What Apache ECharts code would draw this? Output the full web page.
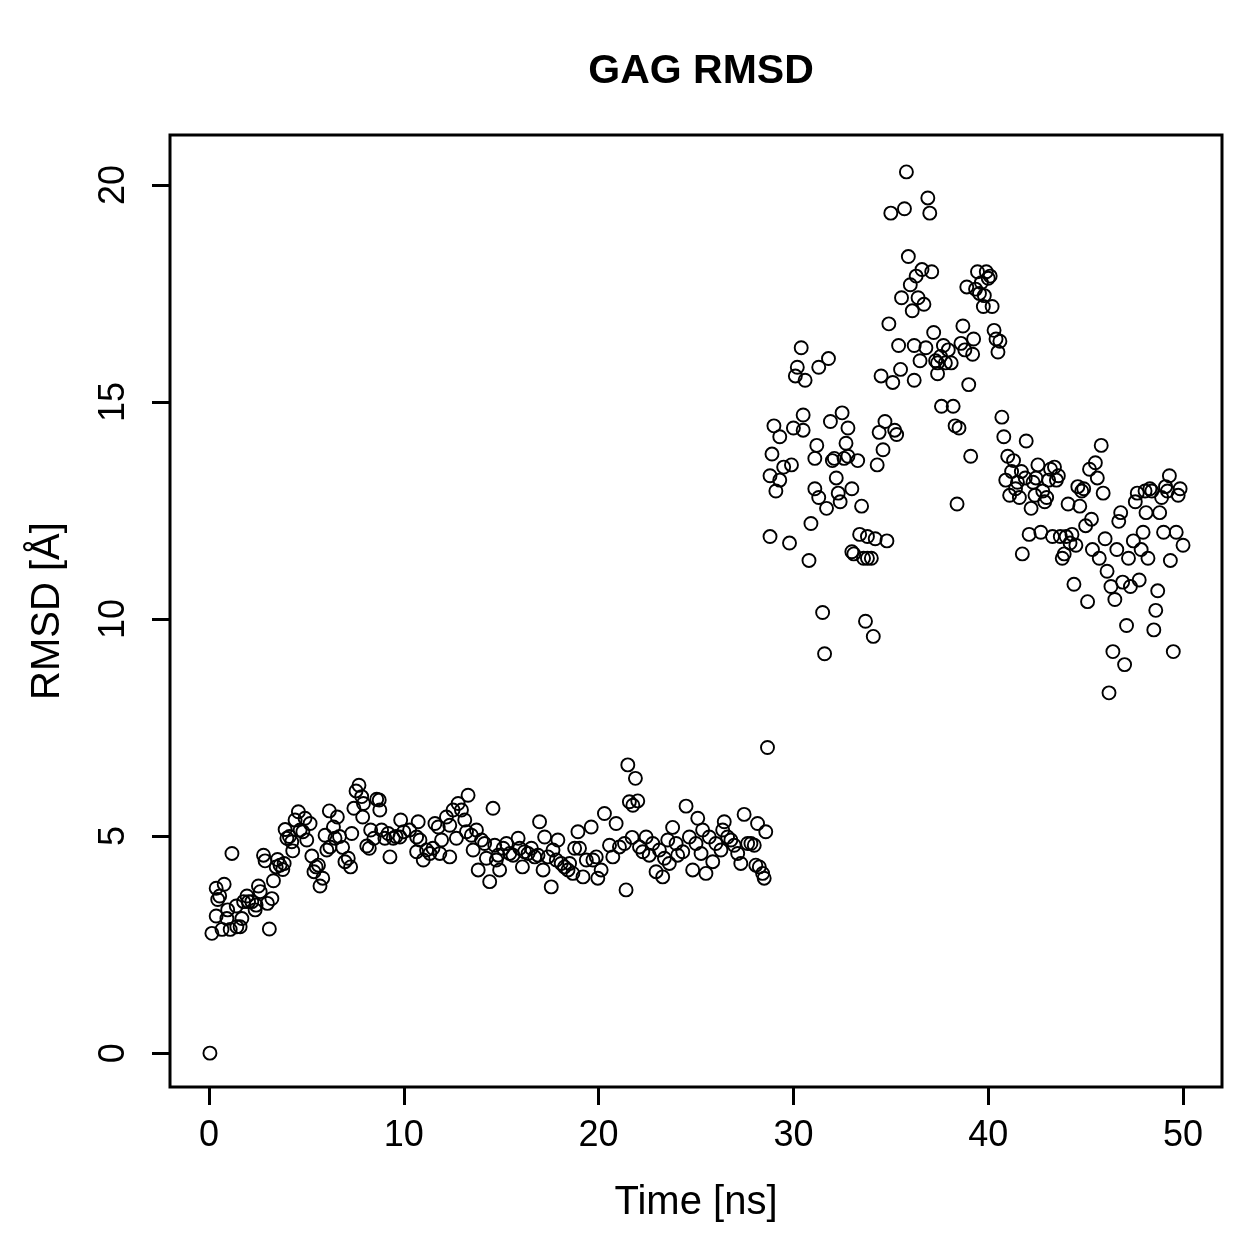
<!DOCTYPE html>
<html>
<head>
<meta charset="utf-8">
<script src="https://cdn.jsdelivr.net/npm/echarts@6/dist/echarts.min.js"></script>
<style>
  html,body{margin:0;padding:0;background:#fff;}
  #chart{width:1259px;height:1259px;}
</style>
</head>
<body>
<div id="chart"></div>
<script>
// time in ns, RMSD in Angstrom
const timeNs = [
  0.05,0.15,0.37,0.37,0.45,0.55,0.67,0.78,0.92,0.96,1.09,1.18,1.4,1.43,1.6,1.69,1.78,1.95,2.03,2.2,
  2.37,2.42,2.54,2.63,2.8,2.88,3.0,3.1,3.23,3.31,3.45,3.52,3.65,3.79,3.86,3.91,4.0,4.13,4.25,4.3,
  4.42,4.59,4.68,4.82,4.93,5.02,5.19,5.28,5.39,5.5,5.62,5.7,5.84,5.96,6.05,6.18,6.21,6.39,6.47,6.59,
  6.7,6.86,6.98,7.15,7.27,7.33,7.44,7.55,7.7,7.84,7.89,7.93,8.1,8.23,8.3,8.47,8.61,8.74,8.77,8.86,
  9.03,9.2,9.29,9.46,9.6,9.8,9.84,10.0,10.3,10.66,10.66,10.74,10.83,11.0,11.17,11.34,11.5,11.6,11.77,11.85,
  11.94,12.19,12.36,12.36,12.53,12.7,12.79,12.96,13.13,13.22,13.3,13.47,13.56,13.73,13.82,13.99,14.15,14.24,14.41,14.58,
  14.67,14.75,14.84,14.92,15.1,15.27,15.44,15.61,15.87,15.95,16.09,16.2,16.38,16.55,16.72,16.89,16.97,17.15,17.23,17.4,
  17.57,17.66,17.83,17.91,18.08,18.25,18.43,18.51,18.68,18.77,18.94,19.02,19.2,19.37,19.62,19.71,19.88,19.96,20.13,20.3,
  20.56,20.73,20.9,21.07,21.33,21.41,21.5,21.58,21.72,21.76,21.89,22.01,22.1,22.27,22.44,22.6,22.78,22.95,23.12,23.29,
  23.38,23.55,23.63,23.8,23.98,24.06,24.32,24.49,24.66,24.83,25.0,25.09,25.26,25.34,25.51,25.68,25.86,26.02,26.28,26.37,
  26.45,26.62,26.79,26.96,27.14,27.3,27.47,27.65,27.82,27.99,28.07,28.16,28.25,28.42,28.5,28.58,28.67,
  28.8,28.8,28.9,29.0,29.1,29.3,29.3,29.5,29.8,29.9,30.0,30.1,30.2,30.4,30.5,30.5,30.6,30.8,30.9,31.1,
  31.1,31.2,31.3,31.3,31.5,31.6,31.7,31.8,31.9,32.0,32.1,32.2,32.3,32.4,32.5,32.6,32.7,32.8,32.8,33.0,
  33.0,33.1,33.3,33.4,33.5,33.6,33.7,33.8,33.8,34.0,34.1,34.2,34.3,34.4,34.5,34.6,34.7,34.8,34.9,35.0,
  35.1,35.2,35.3,35.4,35.5,35.55,35.7,35.8,35.9,36.0,36.1,36.2,36.2,36.3,36.4,36.5,36.6,36.7,36.8,36.9,
  37.0,37.1,37.2,37.3,37.4,37.4,37.55,37.6,37.7,37.8,37.95,38.1,38.2,38.3,38.4,38.5,38.6,38.7,38.8,38.9,
  39.0,39.1,39.2,39.25,39.35,39.45,39.55,39.65,39.75,39.8,39.9,40.0,40.1,40.2,40.3,40.4,40.5,40.6,40.7,40.8,
  40.9,41.0,41.1,41.2,41.3,41.4,41.5,41.6,41.7,41.75,41.9,41.95,42.1,42.2,42.3,42.4,42.45,42.55,42.7,42.8,
  42.9,43.0,43.1,43.2,43.3,43.4,43.5,43.6,43.7,43.8,43.9,44.0,44.1,44.2,44.3,44.4,44.5,44.6,44.7,44.8,
  44.9,45.0,45.1,45.2,45.3,45.35,45.5,45.6,45.7,45.8,45.9,46.0,46.1,46.2,46.3,46.4,46.5,46.6,46.7,46.8,
  46.9,47.0,47.1,47.2,47.3,47.45,47.55,47.65,47.75,47.85,47.95,48.05,48.1,48.2,48.3,48.4,48.5,48.6,48.7,48.8,
  48.9,49.0,49.1,49.2,49.3,49.35,49.5,49.65,49.75,49.85,50.0
];
const rmsdA = [
  0.0,2.76,3.8,3.16,3.54,3.62,2.85,3.89,3.1,3.3,2.85,4.6,3.39,2.91,2.91,3.1,3.49,3.62,3.49,3.49,
  3.3,3.41,3.85,3.72,4.56,4.43,3.45,2.86,3.56,3.97,4.29,4.46,4.33,4.23,4.37,5.15,4.95,4.99,4.87,4.66,
  5.37,5.56,5.14,5.1,5.41,4.91,5.29,4.54,4.18,4.29,4.33,3.85,4.03,5.02,4.68,5.58,4.75,5.21,4.95,5.44,
  4.99,4.74,4.41,4.49,4.29,5.06,5.64,6.04,6.17,5.91,5.44,5.75,4.77,4.72,5.14,4.95,5.85,5.83,5.6,5.14,
  4.95,5.06,4.52,4.95,4.99,4.98,5.37,5.1,5.14,4.98,4.64,5.33,4.91,4.45,4.68,4.6,4.72,5.29,5.21,4.6,
  4.91,5.44,4.52,5.25,5.6,4.95,5.75,5.6,5.37,5.1,5.94,5.02,4.68,5.14,4.22,4.91,4.83,4.49,3.95,5.64,
  4.79,4.45,4.56,4.22,4.72,4.83,4.6,4.56,4.95,4.72,4.29,4.64,4.6,4.72,4.52,4.56,5.33,4.22,4.98,4.52,
  3.83,4.68,4.45,4.91,4.37,4.29,4.22,4.37,4.14,4.72,5.1,4.72,4.06,4.45,5.21,4.45,4.52,4.03,4.22,5.52,
  4.79,4.52,5.29,4.75,4.83,3.76,6.64,5.79,4.97,5.71,6.33,5.81,4.75,4.64,4.98,4.56,4.83,4.18,4.68,4.06,
  4.49,4.91,4.37,5.2,4.83,4.56,4.64,5.69,4.98,4.22,4.83,5.41,4.6,5.14,4.14,4.98,4.41,4.83,4.68,5.14,
  5.33,4.98,4.91,4.79,4.6,4.37,5.5,4.83,4.83,4.79,4.33,5.29,4.29,4.14,4.03,5.1,7.04,
  11.9,13.3,13.8,14.45,12.95,13.2,14.2,13.5,11.75,13.55,14.4,15.6,15.8,16.25,14.35,14.7,15.5,11.35,12.2,13.7,
  13.0,14.0,15.8,12.8,10.15,9.2,12.55,16.0,14.55,13.65,13.7,13.25,12.9,12.7,14.75,13.7,14.05,14.4,13.75,13.0,
  11.55,11.5,13.65,11.95,12.6,11.4,9.95,11.9,11.4,11.4,9.6,11.85,13.55,14.3,15.6,13.9,14.55,11.8,16.8,19.35,
  15.45,14.35,14.25,16.3,15.75,17.4,19.45,20.3,18.35,17.7,17.1,16.3,15.5,17.9,17.4,15.95,18.05,17.25,16.25,19.7,
  19.35,18.0,16.6,15.95,15.9,15.65,16.05,14.9,16.3,15.9,16.2,15.9,14.9,14.45,12.65,14.4,16.35,16.75,16.2,17.65,
  15.4,13.75,16.1,16.45,17.6,18.0,17.5,17.75,17.2,17.45,18.0,17.85,17.9,17.2,16.65,16.45,16.15,16.4,14.65,14.2,
  13.2,13.75,12.85,13.4,13.65,13.0,13.15,12.8,13.4,11.5,13.25,14.1,11.95,12.55,13.15,12.85,13.25,13.55,12.0,12.95,
  12.7,12.8,13.2,13.45,11.9,13.5,13.2,13.3,11.9,11.4,11.5,11.9,12.65,11.75,11.95,10.8,11.7,13.05,12.6,12.95,
  13.0,12.15,10.4,13.45,12.3,11.6,13.6,13.25,11.4,14.0,12.9,11.85,11.1,8.3,10.75,9.25,10.45,11.6,12.25,12.45,
  10.85,8.95,9.85,11.4,10.75,11.8,12.7,12.9,10.9,11.6,12.0,12.95,12.45,11.4,13.0,12.95,9.75,10.2,10.65,12.45,
  12.8,12.0,13.05,12.95,13.3,11.35,9.25,12.0,12.85,13.0,11.7
];
const xTicks = [0, 10, 20, 30, 40, 50];
const yTicks = [0, 5, 10, 15, 20];

const points = timeNs.map((t, i) => [t, rmsdA[i]]);
const FONT = '"Liberation Sans", Arial, Helvetica, sans-serif';

const chart = echarts.init(document.getElementById('chart'));
chart.setOption({
  animation: false,
  backgroundColor: '#fff',
  title: {
    text: 'GAG RMSD', left: 696, top: 46, textAlign: 'center',
    textStyle: { fontFamily: FONT, fontWeight: 'bold', fontSize: 41, color: '#000' }
  },
  grid: {
    left: 170, top: 135, width: 1052, height: 952,
    show: true, borderColor: '#000', borderWidth: 3, backgroundColor: 'transparent'
  },
  xAxis: {
    type: 'value', min: -2, max: 52,
    name: 'Time [ns]', nameLocation: 'middle', nameGap: 96,
    nameTextStyle: { fontFamily: FONT, fontSize: 40, color: '#000' },
    axisLine: { show: false, onZero: false },
    splitLine: { show: false },
    axisTick: { show: true, customValues: xTicks, length: 18, inside: false, lineStyle: { color: '#000', width: 3 } },
    axisLabel: { customValues: xTicks, margin: 31, fontFamily: FONT, fontSize: 36, color: '#000' }
  },
  yAxis: {
    type: 'value', min: -0.78, max: 21.15,
    name: 'RMSD [Å]', nameLocation: 'middle', nameGap: 102, nameRotate: 90,
    nameTextStyle: { fontFamily: FONT, fontSize: 40, color: '#000' },
    axisLine: { show: false, onZero: false },
    splitLine: { show: false },
    axisTick: { show: true, customValues: yTicks, length: 18, inside: false, lineStyle: { color: '#000', width: 3 } },
    axisLabel: { customValues: yTicks, rotate: 90, margin: 38, fontFamily: FONT, fontSize: 36, color: '#000' }
  },
  series: [{
    type: 'scatter',
    data: points,
    symbol: 'circle',
    symbolSize: 13,
    itemStyle: { color: 'rgba(0,0,0,0)', borderColor: '#000', borderWidth: 1.9, opacity: 1 },
    emphasis: { disabled: true }
  }]
});
</script>
</body>
</html>
